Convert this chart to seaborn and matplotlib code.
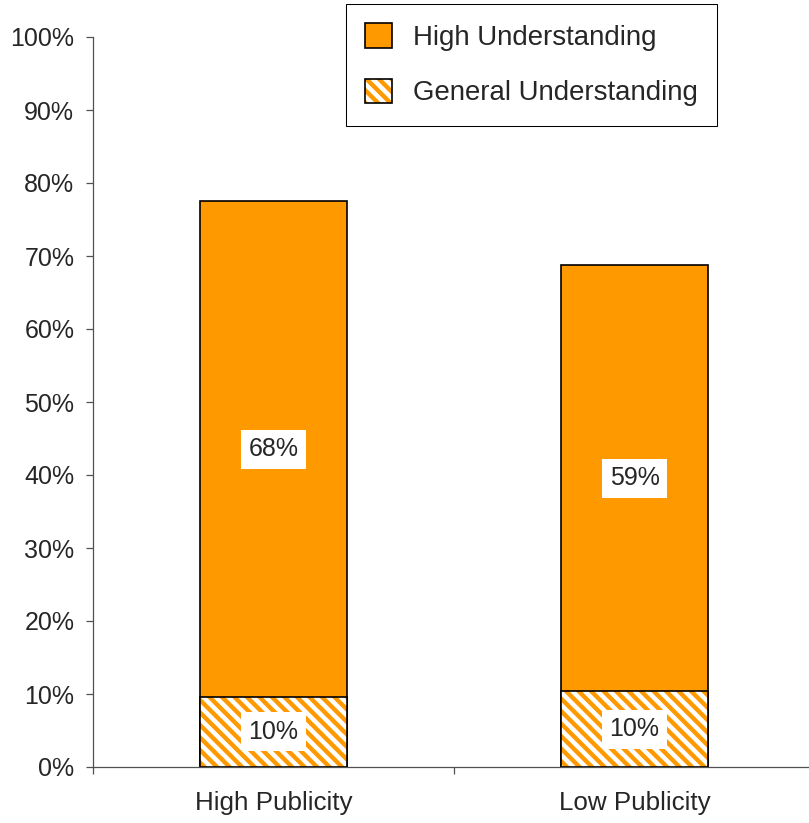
import matplotlib
matplotlib.use("Agg")
import matplotlib.pyplot as plt
import seaborn as sns
import pandas as pd
from matplotlib.patches import Patch
from matplotlib.legend_handler import HandlerTuple
from matplotlib.ticker import FixedLocator, PercentFormatter

# data
categories = ["High Publicity", "Low Publicity"]
general_understanding = [9.6, 10.4]
high_understanding = [67.9, 58.3]
segment_labels_high = ["68%", "59%"]
segment_labels_general = ["10%", "10%"]

ORANGE = "#FF9900"

sns.set_style("white")
plt.rcParams["font.family"] = ["Liberation Sans", "DejaVu Sans"]
plt.rcParams["hatch.linewidth"] = 4.2

df = pd.DataFrame({
    "category": categories,
    "general": general_understanding,
    "high": high_understanding,
})
df["total"] = df["general"] + df["high"]

DPI = 75
fig = plt.figure(figsize=(809 / DPI, 823 / DPI), dpi=DPI)
ax = fig.add_axes([93 / 809, 56 / 823, 722 / 809, 730 / 823])

bw = 0.405
hatch = "\\\\"
# full stacked height in solid orange
sns.barplot(data=df, x="category", y="total", color=ORANGE, saturation=1,
            width=bw, edgecolor="black", linewidth=1.6, ax=ax)
# hatched lower segment
sns.barplot(data=df, x="category", y="general", color="white", saturation=1,
            width=bw, edgecolor=ORANGE, linewidth=0, hatch=hatch, ax=ax)
# black outline around the lower segment
sns.barplot(data=df, x="category", y="general", fill=False, color="black",
            width=bw, linewidth=1.6, ax=ax)

fs = 24
box = dict(facecolor="white", edgecolor="none", boxstyle="square,pad=0.3")
for i, row in df.iterrows():
    ax.text(i, row["general"] + row["high"] / 2, segment_labels_high[i],
            ha="center", va="center", fontsize=fs, bbox=box)
    ax.text(i, row["general"] / 2, segment_labels_general[i],
            ha="center", va="center", fontsize=fs, bbox=box)

ax.set_ylim(0, 100)
ax.set_xlim(-0.5, 1.5)
ax.yaxis.set_major_locator(FixedLocator(range(0, 101, 10)))
ax.yaxis.set_major_formatter(PercentFormatter(decimals=0))
ax.xaxis.set_minor_locator(FixedLocator([-0.5, 0.5, 1.5]))
ax.set_xlabel("")
ax.set_ylabel("")

for side in ["top", "right"]:
    ax.spines[side].set_visible(False)
for side in ["left", "bottom"]:
    ax.spines[side].set_color("#505050")
    ax.spines[side].set_linewidth(1.2)

ax.tick_params(axis="y", which="major", direction="out", length=7, width=1.2,
               color="#505050", left=True, labelsize=fs, pad=11)
ax.tick_params(axis="x", which="major", length=0, labelsize=25, pad=23)
ax.tick_params(axis="x", which="minor", direction="out", length=7, width=1.2,
               color="#505050", bottom=True)

handles = [
    Patch(facecolor=ORANGE, edgecolor="black", linewidth=1.6),
    (Patch(facecolor="white", edgecolor=ORANGE, hatch=hatch, linewidth=0),
     Patch(facecolor="none", edgecolor="black", linewidth=1.6)),
]
lfs = 26.5
leg = fig.legend(handles, ["High Understanding", "General Understanding"],
                 loc="upper left", bbox_to_anchor=(346 / 809, 1 - 4 / 823),
                 fontsize=lfs, frameon=True, fancybox=False, edgecolor="black",
                 handlelength=0.98, handleheight=0.98, labelspacing=1.0,
                 borderpad=0.7, handletextpad=0.75, borderaxespad=0,
                 handler_map={tuple: HandlerTuple(ndivide=1, pad=0)})
leg.get_frame().set_linewidth(1.0)
leg.get_frame().set_alpha(1)

fig.savefig("out.png", dpi=DPI)
